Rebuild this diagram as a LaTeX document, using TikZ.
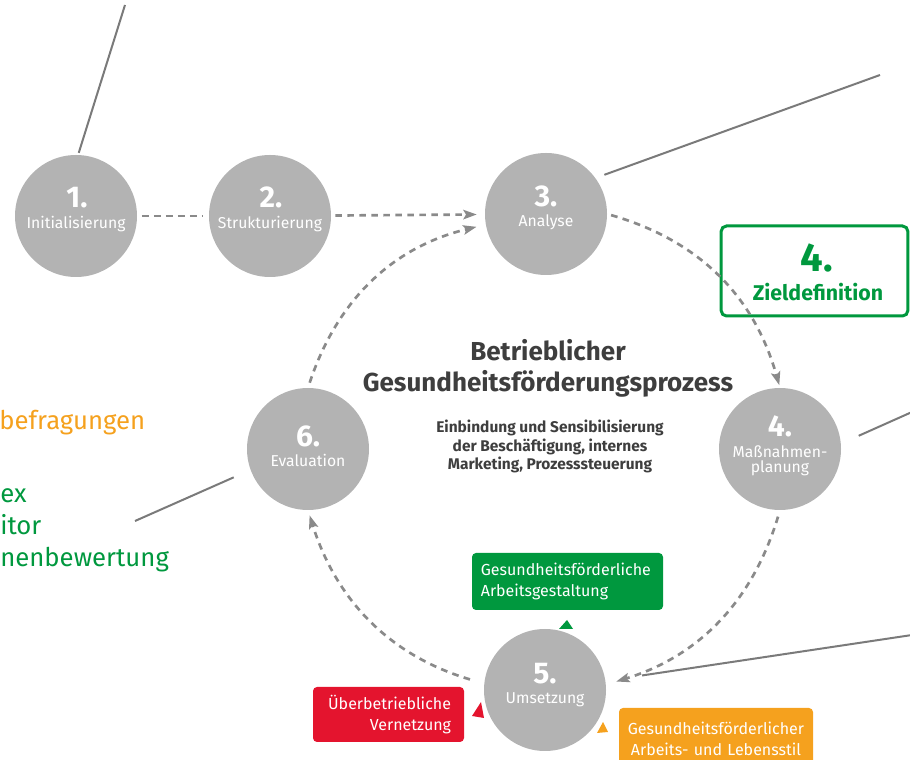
\documentclass[tikz,border=0pt]{standalone}
\usepackage{fontspec}
\setmainfont{Fira Sans}
\usetikzlibrary{arrows.meta}

\definecolor{stepgrey}{RGB}{179,179,179}
\definecolor{flowgrey}{RGB}{138,138,138}
\definecolor{linegrey}{RGB}{122,122,122}
\definecolor{titlegrey}{RGB}{62,62,62}
\definecolor{bgmgreen}{RGB}{0,152,62}
\definecolor{bgmred}{RGB}{228,20,46}
\definecolor{bgmorange}{RGB}{245,161,30}

\begin{document}
\begin{tikzpicture}[x=0.75pt,y=0.75pt,
  stepcircle/.style={circle,fill=stepgrey,minimum size=91.5pt,inner sep=0pt},
  stepnum/.style={anchor=base,text=white,inner sep=0pt,font=\fontsize{22.5}{22.5}\selectfont\bfseries},
  steplabel/.style={anchor=base,text=white,inner sep=0pt,font=\fontsize{11.8}{12}\selectfont},
  flow/.style={draw=flowgrey,line width=2pt,dash pattern=on 5pt off 4pt},
  flowarrow/.style={flow,-{Stealth[length=10pt,width=7pt,inset=2pt]}},
  callout/.style={draw=linegrey,line width=1.5pt},
  tagbox/.style={rounded corners=3pt,inner sep=0pt,text=white,font=\fontsize{12}{15.75}\selectfont},
  sidetext/.style={anchor=base west,inner sep=0pt,font=\fontsize{19.3}{19.3}\selectfont},
  titletext/.style={anchor=base,inner sep=0pt,text=titlegrey,font=\fontsize{19.5}{19.5}\selectfont\bfseries},
  subtext/.style={anchor=base,inner sep=0pt,text=titlegrey,font=\fontsize{11.6}{12}\selectfont\bfseries}
]
\useasboundingbox (0,0) rectangle (910,760);
\clip (0,0) rectangle (910,760);

% process steps
\node[stepcircle] (s1) at (76,544) {};
\node[stepcircle] (s2) at (270,544) {};
\node[stepcircle] (s3) at (546,546) {};
\node[stepcircle] (s4) at (780,311) {};
\node[stepcircle] (s5) at (545,70) {};
\node[stepcircle] (s6) at (308,311) {};

\node[stepnum] (n1) at (77,552) {1.};
\node[steplabel] (l1) at (76,531) {Initialisierung};
\node[stepnum] (n2) at (271,552) {2.};
\node[steplabel] (l2) at (270,531) {Strukturierung};
\node[stepnum] (n3) at (546,553) {3.};
\node[steplabel] (l3) at (546,533) {Analyse};
\node[stepnum] (n4) at (780,323) {4.};
\node[steplabel] (l4a) at (780,302) {Maßnahmen-};
\node[steplabel] (l4b) at (780,287) {planung};
\node[stepnum] (n5) at (545,76) {5.};
\node[steplabel] (l5) at (545,56) {Umsetzung};
\node[stepnum] (n6) at (308,313) {6.};
\node[steplabel] (l6) at (308,293) {Evaluation};

% centre title
\node[titletext] (t1) at (548,399) {Betrieblicher};
\node[titletext] (t2) at (548,368) {Gesundheitsförderungsprozess};
\node[subtext] (u1) at (550,327) {Einbindung und Sensibilisierung};
\node[subtext] (u2) at (550,308) {der Beschäftigung, internes};
\node[subtext] (u3) at (550,290) {Marketing, Prozesssteuerung};

% goal box
\node[draw=bgmgreen,line width=2.25pt,rounded corners=4pt,minimum width=140pt,minimum height=67.5pt,inner sep=0pt] (z) at (814.5,489) {};
\node[anchor=base,inner sep=0pt,text=bgmgreen,font=\fontsize{30}{30}\selectfont\bfseries] (zn) at (817,488) {4.};
\node[anchor=base,inner sep=0pt,text=bgmgreen,font=\fontsize{16}{16}\selectfont\bfseries] (zl) at (818,459) {Zieldefinition};

% fields of action
\node[tagbox,fill=bgmgreen,minimum width=143.25pt,minimum height=42.75pt,align=left,text width=130pt] (g) at (567.5,178.5) {Gesundheitsförderliche\\Arbeitsgestaltung};
\node[tagbox,fill=bgmred,minimum width=113.25pt,minimum height=41.25pt,align=right,text width=93.75pt] (r) at (388.5,45.5) {Überbetriebliche\\Vernetzung};
\node[tagbox,fill=bgmorange,minimum width=145.5pt,minimum height=46.5pt,align=center,text width=140pt] (o) at (716,21) {Gesundheitsförderlicher\\Arbeits- und Lebensstil};

\fill[bgmgreen] (559,131) -- (573,131) -- (567,140) -- cycle;
\fill[bgmred] (481,58) -- (472,44) -- (484,42) -- cycle;
\fill[bgmorange] (603,38) -- (597,27) -- (608,28) -- cycle;

% flow of the process
\draw[flow,shorten <=3.5pt,shorten >=4pt] (s1) -- (s2);
\draw[flowarrow,shorten <=3pt,shorten >=6pt] (s2) -- (s3);
\draw[flowarrow,shorten <=3pt,shorten >=2pt] (s3.0) to[bend left=29] (s4.90);
\draw[flowarrow,shorten <=5pt,shorten >=8pt] (s4.270) to[bend left=28] (s5.5);
\draw[flowarrow,shorten <=11pt,shorten >=4pt] (s5.174) to[bend left=28] (s6.270);
\draw[flowarrow,shorten <=4pt,shorten >=7pt] (s6.90) to[bend left=29] (s3.190);

% callout lines
\coordinate (e1) at (125,755);
\coordinate (e2) at (880,685);
\coordinate (e3) at (912,348);
\coordinate (e4) at (135,239);
\coordinate (e5) at (912,125);
\draw[callout,shorten <=1.5pt] (s1.88) -- (e1);
\draw[callout,shorten <=7pt] (s3.36) -- (e2);
\draw[callout,shorten <=14.5pt] (s4.5) -- (e3);
\draw[callout,shorten <=13.7pt] (s6.200) -- (e4);
\draw[callout,shorten >=27.7pt] (e5) -- (s5);

% side notes
\node[sidetext,text=bgmorange] (a1) at (-1,330) {befragungen};
\node[sidetext,text=bgmgreen] (a2) at (0,257) {ex};
\node[sidetext,text=bgmgreen] (a3) at (0,225) {itor};
\node[sidetext,text=bgmgreen] (a4) at (0,193) {nenbewertung};
\end{tikzpicture}
\end{document}
